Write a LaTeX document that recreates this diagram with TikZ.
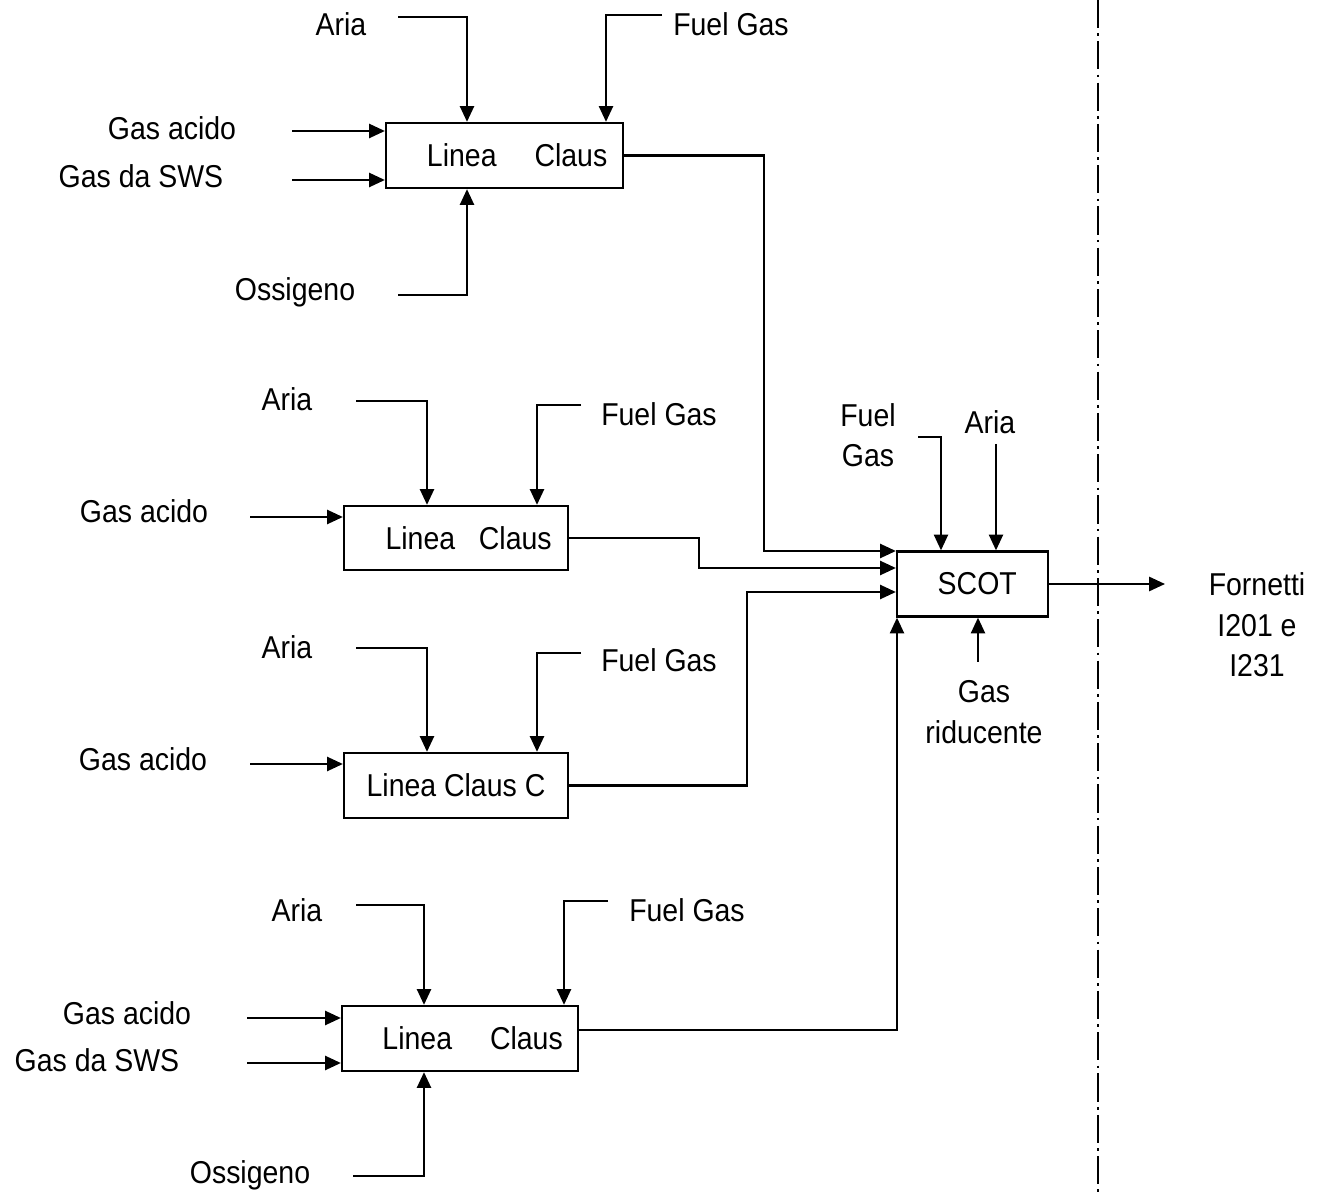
\documentclass[tikz,border=0pt]{standalone}
\usepackage{fontspec}
\setmainfont{Liberation Sans}[FakeStretch=0.9]
\usetikzlibrary{arrows.meta}
\begin{document}
\begin{tikzpicture}[x=0.02cm,y=-0.02cm,>={Triangle[length=9pt,width=8pt]},
  every node/.style={font=\fontsize{18}{23}\selectfont},
  lbl/.style={anchor=base,inner sep=0pt},
  unit/.style={draw,line width=1.3pt,inner sep=0pt,minimum height=1.3cm},
  flow/.style={->,line width=1.3pt}]
  \useasboundingbox (0,0) rectangle (1326,1192);
  % boxes
  \node[unit,minimum width=3.02cm] (scot) at (972.5,584) {\hspace*{0.3em}SCOT};
  \node[unit,minimum width=4.74cm] (lc1) at (504.5,155.5) {\hspace*{0.8em}Linea\hspace{1.2em}Claus};
  \node[unit,minimum width=4.48cm,minimum height=1.28cm] (lc2) at (456,538) {\hspace*{0.8em}Linea\hspace{0.75em}Claus};
  \node[unit,minimum width=4.48cm] (lc3) at (456,785.5) {Linea Claus C};
  \node[unit,minimum width=4.72cm] (lc4) at (460,1038.5) {\hspace*{0.8em}Linea\hspace{1.2em}Claus};
  % labels
  \node[lbl] (ar1) at (341,36) {Aria};
  \node[lbl] (fg1) at (731,36) {Fuel Gas};
  \node[lbl] (ga1) at (172,140) {Gas acido};
  \node[lbl] (sw1) at (141,188) {Gas da SWS};
  \node[lbl] (os1) at (295,301) {Ossigeno};
  \node[lbl] (ar2) at (287,411) {Aria};
  \node[lbl] (fg2) at (659,426) {Fuel Gas};
  \node[lbl] (ga2) at (144,523) {Gas acido};
  \node[lbl] (ar3) at (287,659) {Aria};
  \node[lbl] (fg3) at (659,672) {Fuel Gas};
  \node[lbl] (ga3) at (143,770) {Gas acido};
  \node[lbl] (ar4) at (297,921) {Aria};
  \node[lbl] (fg4) at (687,921) {Fuel Gas};
  \node[lbl] (ga4) at (127,1024) {Gas acido};
  \node[lbl] (sw4) at (97,1071) {Gas da SWS};
  \node[lbl] (os4) at (250,1183) {Ossigeno};
  \node[lbl] (ar5) at (990,434) {Aria};
  \node[align=center,inner sep=0pt] (fg5) at (868,435) {Fuel\\Gas};
  \node[align=center,inner sep=0pt] (gr5) at (984,712) {Gas\\riducente};
  \node[align=center,inner sep=0pt] (fn) at (1257,625) {Fornetti\\I201 e\\I231};
  % line ends and bends
  \coordinate (ar1s) at (398,17);   \coordinate (ar1k) at (467,17);
  \coordinate (fg1s) at (662,15);   \coordinate (fg1k) at (606,15);
  \coordinate (ga1s) at (292,131);  \coordinate (sw1s) at (292,180);
  \coordinate (os1s) at (398,295);  \coordinate (os1k) at (467,295);
  \coordinate (o1k) at (764,551);
  \coordinate (ar2s) at (356,401);  \coordinate (ar2k) at (427,401);
  \coordinate (fg2s) at (581,405);  \coordinate (fg2k) at (537,405);
  \coordinate (ga2s) at (250,517);
  \coordinate (o2k) at (699,568);
  \coordinate (ar3s) at (356,648);  \coordinate (ar3k) at (427,648);
  \coordinate (fg3s) at (581,653);  \coordinate (fg3k) at (537,653);
  \coordinate (ga3s) at (250,764);
  \coordinate (o3k) at (747,592);
  \coordinate (ar4s) at (356,905);  \coordinate (ar4k) at (424,905);
  \coordinate (fg4s) at (608,901);  \coordinate (fg4k) at (564,901);
  \coordinate (ga4s) at (247,1018); \coordinate (sw4s) at (247,1063);
  \coordinate (os4s) at (353,1176); \coordinate (os4k) at (424,1176);
  \coordinate (o4k) at (897,1030);
  \coordinate (fg5s) at (918,437);  \coordinate (fg5k) at (941,437);
  \coordinate (ar5s) at (996,444);
  \coordinate (gr5s) at (978,662);
  \coordinate (fo) at (1165,584);
  % first line
  \draw[flow] (ar1s) -- (ar1k) -- (ar1k |- lc1.north);
  \draw[flow] (fg1s) -- (fg1k) -- (fg1k |- lc1.north);
  \draw[flow] (ga1s) -- (ga1s -| lc1.west);
  \draw[flow] (sw1s) -- (sw1s -| lc1.west);
  \draw[flow] (os1s) -- (os1k) -- (os1k |- lc1.south);
  \draw[flow] (lc1.east) -| (o1k) -- (o1k -| scot.west);
  % second line
  \draw[flow] (ar2s) -- (ar2k) -- (ar2k |- lc2.north);
  \draw[flow] (fg2s) -- (fg2k) -- (fg2k |- lc2.north);
  \draw[flow] (ga2s) -- (ga2s -| lc2.west);
  \draw[flow] (lc2.east) -| (o2k) -- (o2k -| scot.west);
  % line C
  \draw[flow] (ar3s) -- (ar3k) -- (ar3k |- lc3.north);
  \draw[flow] (fg3s) -- (fg3k) -- (fg3k |- lc3.north);
  \draw[flow] (ga3s) -- (ga3s -| lc3.west);
  \draw[flow] (lc3.east) -| (o3k) -- (o3k -| scot.west);
  % last line
  \draw[flow] (ar4s) -- (ar4k) -- (ar4k |- lc4.north);
  \draw[flow] (fg4s) -- (fg4k) -- (fg4k |- lc4.north);
  \draw[flow] (ga4s) -- (ga4s -| lc4.west);
  \draw[flow] (sw4s) -- (sw4s -| lc4.west);
  \draw[flow] (os4s) -- (os4k) -- (os4k |- lc4.south);
  \draw[flow] (lc4.east |- o4k) -- (o4k) -- (o4k |- scot.south);
  % SCOT
  \draw[flow] (fg5s) -- (fg5k) -- (fg5k |- scot.north);
  \draw[flow] (ar5s) -- (ar5s |- scot.north);
  \draw[flow] (gr5s) -- (gr5s |- scot.south);
  \draw[flow] (scot.east) -- (fo);
  \draw[line width=0.8pt,dash pattern=on 16pt off 3pt on 1.5pt off 3pt] (1098,0) -- (1098,1192);
\end{tikzpicture}
\end{document}
